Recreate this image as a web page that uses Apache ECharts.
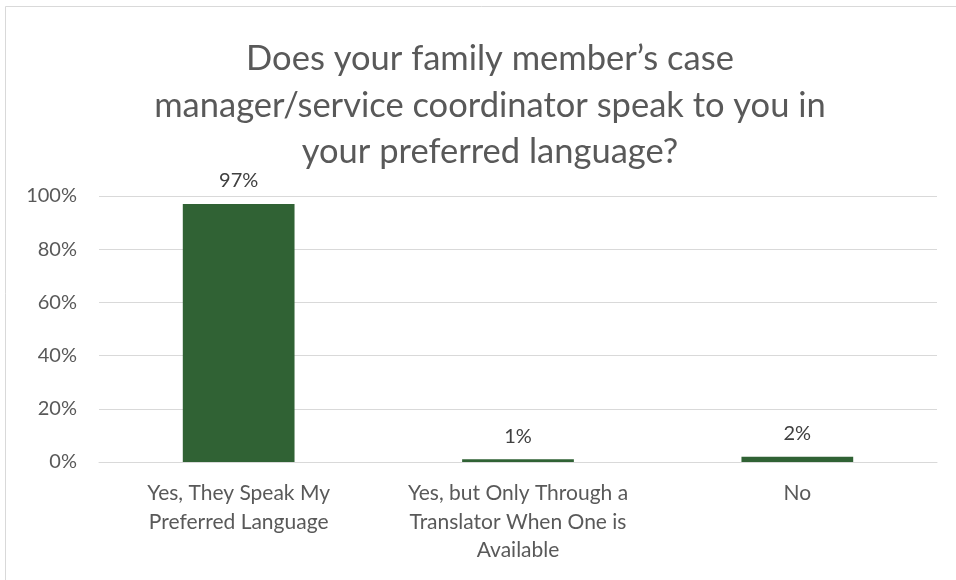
<!DOCTYPE html>
<html>
<head>
<meta charset="utf-8">
<script src="https://cdn.jsdelivr.net/npm/echarts@6/dist/echarts.min.js"></script>
<style>
  html, body { margin: 0; padding: 0; background: #fff; }
  #chart { width: 956px; height: 580px; }
</style>
</head>
<body>
<div id="chart"></div>
<script>
// Survey answers and their shares (percent)
const categories = [
  'Yes, They Speak My\nPreferred Language',
  'Yes, but Only Through a\nTranslator When One is\nAvailable',
  'No'
];
const shares = [97, 1, 2];
const yTicks = [0, 20, 40, 60, 80, 100];

const titleText = 'Does your family member\u2019s case\nmanager/service coordinator speak to you in\nyour preferred language?';
const FONT = 'Lato, "Open Sans", sans-serif';
const TEXT = '#595959';

const chart = echarts.init(document.getElementById('chart'), null, { renderer: 'canvas' });
chart.setOption({
  backgroundColor: '#ffffff',
  animation: false,
  title: {
    text: titleText,
    left: 485,
    textAlign: 'center',
    top: 31,
    textStyle: {
      fontFamily: FONT,
      fontSize: 34.5,
      fontWeight: 'normal',
      color: TEXT,
      lineHeight: 46.5
    }
  },
  graphic: [{
    type: 'rect',
    shape: { x: 5.5, y: 6.5, width: 1000, height: 1000 },
    style: { fill: 'none', stroke: '#d9d9d9', lineWidth: 1 },
    silent: true
  }],
  grid: {
    left: 99,
    right: 19,
    top: 196,
    bottom: 118,
    containLabel: false,
    outerBoundsMode: 'none'
  },
  xAxis: {
    type: 'category',
    data: categories,
    axisLine: { show: true, lineStyle: { color: '#d9d9d9', width: 1 } },
    axisTick: { show: false },
    axisLabel: {
      fontFamily: FONT,
      fontSize: 21,
      color: TEXT,
      lineHeight: 28.5,
      margin: 17,
      interval: 0
    }
  },
  yAxis: {
    type: 'value',
    min: yTicks[0],
    max: yTicks[yTicks.length - 1],
    interval: yTicks[1] - yTicks[0],
    axisLine: { show: false },
    axisTick: { show: false },
    splitLine: { lineStyle: { color: '#d9d9d9', width: 1 } },
    axisLabel: {
      fontFamily: FONT,
      fontSize: 20,
      color: TEXT,
      margin: 22,
      formatter: v => v + '%'
    }
  },
  series: [{
    type: 'bar',
    data: shares,
    barWidth: '40%',
    itemStyle: { color: '#306234' },
    label: {
      show: true,
      position: 'top',
      distance: 13,
      fontFamily: FONT,
      fontSize: 20,
      color: '#404040',
      formatter: p => p.value + '%'
    }
  }]
});
</script>
</body>
</html>
